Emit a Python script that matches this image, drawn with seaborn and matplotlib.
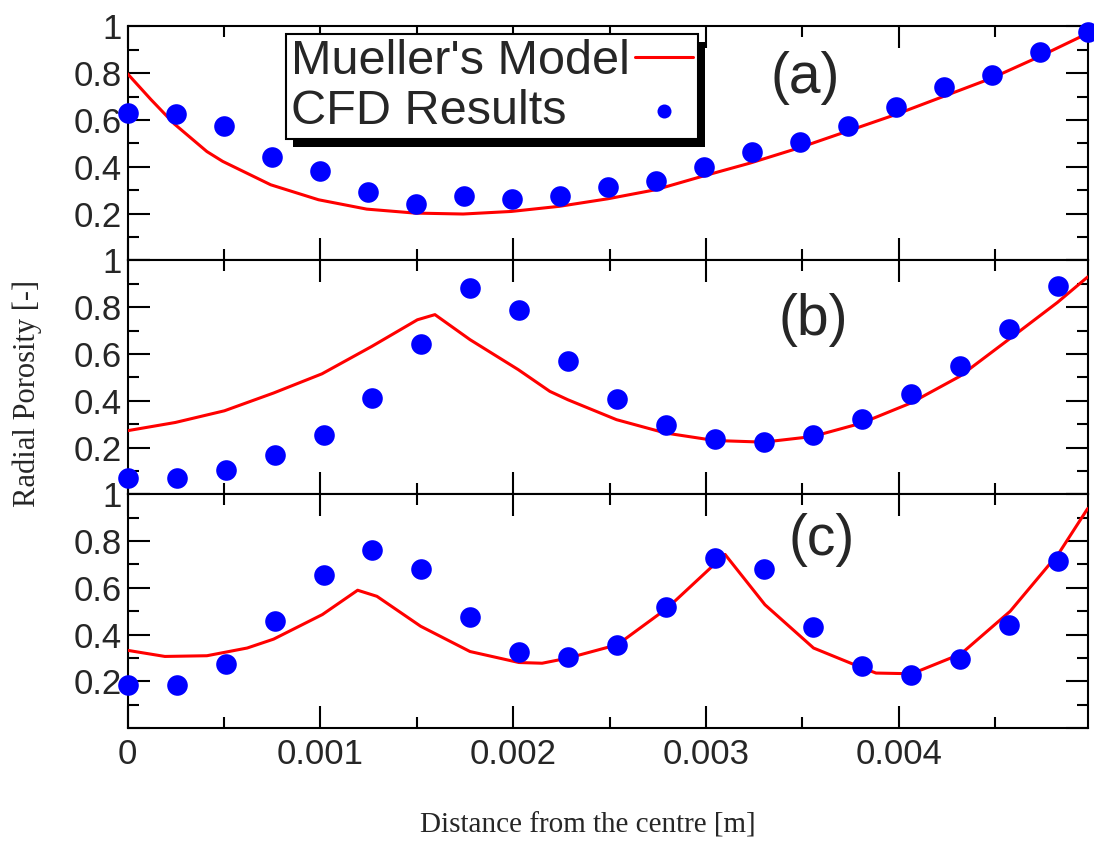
import numpy as np
import pandas as pd
import matplotlib
matplotlib.use("Agg")
import matplotlib.pyplot as plt
import matplotlib.transforms as mtransforms
from matplotlib.patches import Rectangle
from matplotlib.ticker import MultipleLocator, FixedLocator
import seaborn as sns

# ---------------- data ----------------
X_MAX = 0.00498

CFD_X_A = [0.0, 0.000249, 0.000498, 0.000747, 0.000996, 0.001245, 0.001494,
           0.001743, 0.001992, 0.002241, 0.00249, 0.002739, 0.002988, 0.003237,
           0.003486, 0.003735, 0.003984, 0.004233, 0.004482, 0.004731, 0.00498]
CFD_Y_A = [0.629, 0.626, 0.575, 0.441, 0.380, 0.294, 0.241, 0.273, 0.262,
           0.276, 0.313, 0.341, 0.397, 0.463, 0.505, 0.576, 0.657, 0.740,
           0.793, 0.892, 0.975]

CFD_X_BC = [0.0, 0.000254, 0.000508, 0.000762, 0.001016, 0.00127, 0.001524,
            0.001778, 0.002032, 0.002286, 0.00254, 0.002794, 0.003048,
            0.003302, 0.003556, 0.00381, 0.004064, 0.004318, 0.004572, 0.004826]
CFD_Y_B = [0.069, 0.069, 0.105, 0.169, 0.255, 0.411, 0.644, 0.882, 0.789,
           0.571, 0.408, 0.297, 0.236, 0.225, 0.252, 0.323, 0.430, 0.550,
           0.708, 0.892]
CFD_Y_C = [0.183, 0.183, 0.276, 0.457, 0.653, 0.761, 0.681, 0.476, 0.328,
           0.304, 0.357, 0.519, 0.726, 0.679, 0.431, 0.267, 0.226, 0.297,
           0.440, 0.713]

MODEL_X_A = [0.0, 0.00012, 0.000242, 0.000411, 0.000493, 0.000742, 0.00099,
             0.00124, 0.00149, 0.00174, 0.00199, 0.00224, 0.00249, 0.00274,
             0.00298, 0.00323, 0.00348, 0.00373, 0.00398, 0.00423, 0.00448,
             0.00473, 0.00498]
MODEL_Y_A = [0.797, 0.688, 0.583, 0.465, 0.423, 0.323, 0.259, 0.219, 0.202,
             0.198, 0.209, 0.231, 0.263, 0.302, 0.359, 0.416, 0.480, 0.551,
             0.622, 0.700, 0.778, 0.871, 0.970]

MODEL_X_B = [0.0, 0.000247, 0.000502, 0.000757, 0.001008, 0.001266, 0.001503,
             0.001594, 0.001776, 0.002026, 0.00219, 0.002284, 0.002536,
             0.00279, 0.003045, 0.003299, 0.003553, 0.003806, 0.004062,
             0.004316, 0.004569, 0.004823, 0.00498]
MODEL_Y_B = [0.272, 0.307, 0.357, 0.433, 0.515, 0.632, 0.746, 0.768, 0.661,
             0.533, 0.440, 0.404, 0.319, 0.262, 0.230, 0.223, 0.247, 0.304,
             0.390, 0.504, 0.661, 0.820, 0.929]

MODEL_X_C = [0.0, 0.000193, 0.000411, 0.00062, 0.000757, 0.00101, 0.001193,
             0.001293, 0.00152, 0.001776, 0.00203, 0.00215, 0.002284, 0.00254,
             0.0028, 0.003099, 0.003306, 0.003558, 0.003814, 0.003882,
             0.004068, 0.004323, 0.004578, 0.004832, 0.00498]
MODEL_Y_C = [0.333, 0.307, 0.310, 0.343, 0.381, 0.486, 0.590, 0.564, 0.436,
             0.328, 0.281, 0.278, 0.300, 0.357, 0.514, 0.743, 0.528, 0.343,
             0.257, 0.236, 0.233, 0.318, 0.500, 0.750, 0.939]

PANEL_LABELS = ["(a)", "(b)", "(c)"]
LEGEND_LABELS = ["Mueller's Model", "CFD Results"]
X_TICKS = [0.0, 0.001, 0.002, 0.003, 0.004]
X_TICK_LABELS = ["0", "0.001", "0.002", "0.003", "0.004"]
Y_TICKS = [0.0, 0.2, 0.4, 0.6, 0.8, 1.0]
Y_TICK_LABELS = ["", "0.2", "0.4", "0.6", "0.8", "1"]
X_LABEL = "Distance from the centre [m]"
Y_LABEL = "Radial Porosity [-]"

# ---------------- style ----------------
sns.set_style("ticks")
plt.rcParams["font.family"] = ["Liberation Sans", "DejaVu Sans"]

RED = "#ff0000"
BLUE = "#0000ff"

fig, axes = plt.subplots(3, 1, figsize=(10.94, 8.43), dpi=100, sharex=True)
fig.subplots_adjust(left=0.1167, right=0.9942, top=0.9687, bottom=0.1361,
                    hspace=0)

panels = [
    (CFD_X_A, CFD_Y_A, MODEL_X_A, MODEL_Y_A, (0.7055, 0.7785)),
    (CFD_X_BC, CFD_Y_B, MODEL_X_B, MODEL_Y_B, (0.7146, 0.7464)),
    (CFD_X_BC, CFD_Y_C, MODEL_X_C, MODEL_Y_C, (0.7225, 0.8037)),
]

for i, (ax, (cx, cy, mx, my, lpos)) in enumerate(zip(axes, panels)):
    dm = pd.DataFrame({"x": mx, "y": my})
    dc = pd.DataFrame({"x": cx, "y": cy})
    sns.lineplot(data=dm, x="x", y="y", ax=ax, color=RED, linewidth=2.2,
                 sort=False, estimator=None, zorder=3)
    sns.scatterplot(data=dc, x="x", y="y", ax=ax, color=BLUE, s=220,
                    linewidth=0, zorder=4, clip_on=False)
    ax.set_xlim(0, X_MAX)
    ax.set_ylim(0, 1)
    ax.set_xlabel("")
    ax.set_ylabel("")
    ax.xaxis.set_major_locator(FixedLocator(X_TICKS))
    ax.xaxis.set_minor_locator(MultipleLocator(0.0005))
    ax.yaxis.set_major_locator(FixedLocator(Y_TICKS))
    ax.yaxis.set_minor_locator(MultipleLocator(0.1))
    ax.set_yticklabels(Y_TICK_LABELS)
    ax.set_xticklabels(X_TICK_LABELS)
    ax.tick_params(which="both", direction="in", top=True, right=True,
                   bottom=True, left=True, width=1.5, color="black")
    ax.tick_params(which="major", length=15.8)
    ax.tick_params(which="minor", length=7.9)
    ax.tick_params(axis="y", labelsize=25, pad=4)
    ax.tick_params(axis="x", labelsize=25, pad=7)
    if i < 2:
        ax.tick_params(axis="x", labelbottom=False)
    for s in ax.spines.values():
        s.set_linewidth(1.5)
        s.set_color("black")
        s.set_visible(True)
    ax.text(lpos[0], lpos[1], PANEL_LABELS[i], transform=ax.transAxes,
            ha="center", va="center", fontsize=41)

# legend on panel (a)
ax0 = axes[0]
handles = [ax0.lines[0], ax0.collections[0]]
leg = ax0.legend(handles=handles, labels=LEGEND_LABELS, loc="upper left",
                 bbox_to_anchor=(0.165, 0.966), borderaxespad=0,
                 fontsize=35, markerfirst=False, frameon=True, fancybox=False,
                 framealpha=1, edgecolor="black", borderpad=0.1,
                 labelspacing=0.1, handlelength=1.2, handletextpad=0.1,
                 markerscale=0.68, scatterpoints=1)
leg.get_frame().set_linewidth(1.5)
leg.set_zorder(6)

fig.text(0.025, 0.533, Y_LABEL, rotation=90, ha="center", va="center",
         fontsize=22, family=["Liberation Serif", "DejaVu Serif"])
fig.text(0.537, 0.021, X_LABEL, ha="center", va="center",
         fontsize=21, family=["Liberation Serif", "DejaVu Serif"])

# left-align legend texts while keeping the handles in a right column
fig.canvas.draw()
renderer = fig.canvas.get_renderer()
widths = [t.get_window_extent(renderer).width for t in leg.texts]
try:
    column = leg._legend_handle_box.get_children()[0]
    for row, w in zip(column.get_children(), widths):
        row.sep = row.sep + (max(widths) - w) * 72.0 / fig.dpi
except Exception:
    pass
fig.canvas.draw()

# black offset shadow behind the legend box
bb = leg.get_window_extent(renderer)
shadow = Rectangle((bb.x0 + 7, bb.y0 - 8), bb.width, bb.height,
                   transform=mtransforms.IdentityTransform(),
                   facecolor="black", edgecolor="none", zorder=5.9,
                   clip_on=False)
ax0.add_artist(shadow)

fig.savefig("out.png", dpi=100)
